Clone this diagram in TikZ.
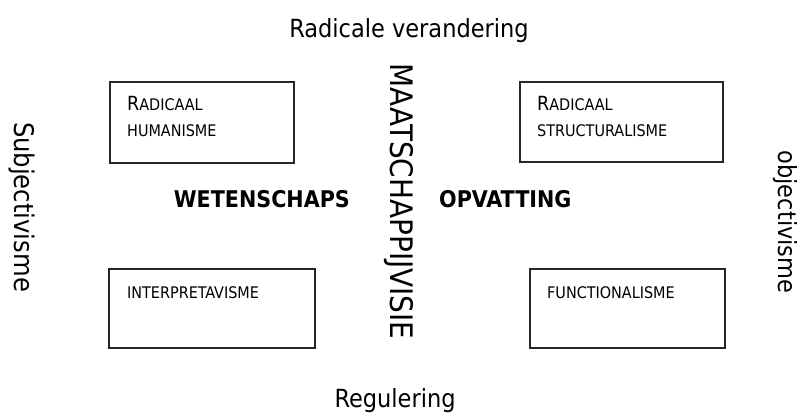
\documentclass[tikz,border=0pt]{standalone}
\usepackage{fontspec}
\setmainfont{DejaVu Sans Condensed}
\newcommand{\mybigletter}[1]{{\fontsize{19.5}{19.5}\selectfont #1}}
\newcommand{\mysmallcaps}[1]{{\fontsize{16}{16}\selectfont #1}}
\tikzset{
  quad/.style={draw=black!85, line width=1.3pt, inner sep=0pt},
  boxlabel/.style={anchor=base west, inner sep=0pt, align=left, font=\fontsize{16}{26}\selectfont},
  axis/.style={inner sep=0pt, font=\fontsize{25}{25}\selectfont},
  side/.style={inner sep=0pt, rotate=-90, font=\fontsize{25}{25}\selectfont},
  big/.style={inner sep=0pt, font=\bfseries\fontsize{23}{23}\selectfont}
}
\begin{document}
\begin{tikzpicture}[x=1pt,y=-1pt]
\useasboundingbox (0,0) rectangle (799,413);
\node[quad, minimum width=184pt, minimum height=81pt] (b1) at (202,122.5) {};
\node[quad, minimum width=203pt, minimum height=80pt] (b2) at (621.5,122) {};
\node[quad, minimum width=206pt, minimum height=79pt] (b3) at (212,308.5) {};
\node[quad, minimum width=195pt, minimum height=79pt] (b4) at (627.5,308.5) {};
\node[boxlabel] (t1) at (127,110) {\mybigletter{R}\mysmallcaps{ADICAAL}};
\node[boxlabel] (t1b) at (127,136) {HUMANISME};
\node[boxlabel] (t2) at (537,110) {\mybigletter{R}\mysmallcaps{ADICAAL}};
\node[boxlabel] (t2b) at (537,136) {STRUCTURALISME};
\node[boxlabel] (t3) at (127,298) {INTERPRETAVISME};
\node[boxlabel] (t4) at (547,298) {FUNCTIONALISME};
\node[axis, anchor=base] (top) at (409,37) {Radicale verandering};
\node[axis, anchor=base] (bot) at (395,407) {Regulering};
\node[side, font=\fontsize{27}{27}\selectfont] (left) at (22,207) {Subjectivisme};
\node[side] (right) at (785,222) {objectivisme};
\node[side, font=\fontsize{31}{31}\selectfont] (mid) at (399,201.5) {MAATSCHAPPIJVISIE};
\node[big, anchor=base east] (w) at (350,207) {WETENSCHAPS};
\node[big, anchor=base west] (o) at (439,207) {OPVATTING};
\end{tikzpicture}
\end{document}
